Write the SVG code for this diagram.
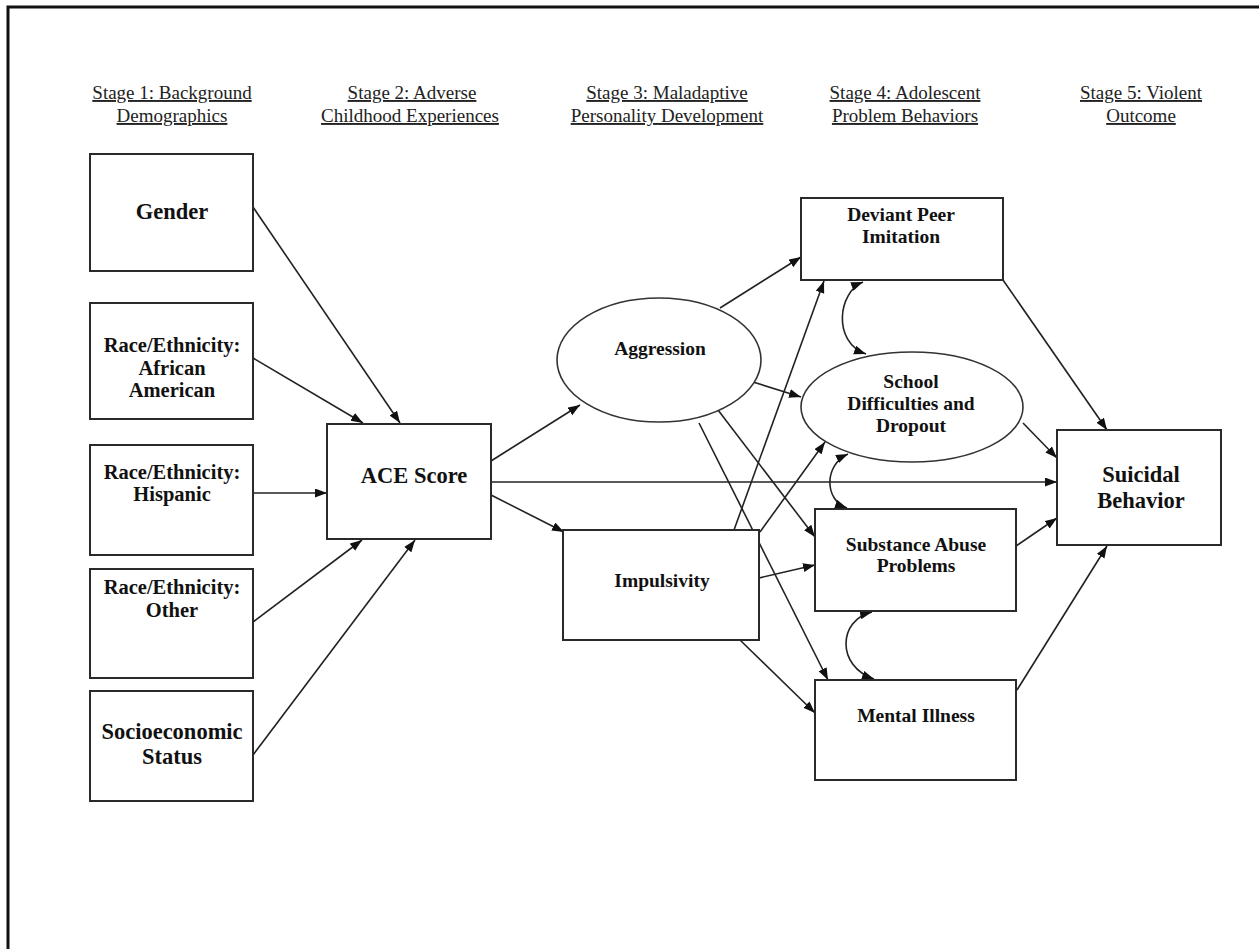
<svg xmlns="http://www.w3.org/2000/svg" width="1259" height="949" viewBox="0 0 1259 949">
<style>
.hdr{font-family:"Liberation Serif","Times New Roman",serif;font-size:19px;fill:#222;text-anchor:middle;text-decoration:underline}
.lbl{font-family:"Liberation Serif","Times New Roman",serif;font-weight:bold;font-size:19.5px;fill:#111;text-anchor:middle}
.race{font-size:20.5px}
.big{font-size:22.5px}
.box{fill:#fff;stroke:#2a2a2a;stroke-width:2}
.con path,.con line{stroke:#222;stroke-width:1.6;fill:none}
</style>
<defs>
<marker id="ah" markerUnits="userSpaceOnUse" markerWidth="13" markerHeight="10" refX="12" refY="4.5" orient="auto-start-reverse">
<path d="M0,0 L12,4.5 L0,9 z" fill="#111"/>
</marker>
</defs>
<rect x="8" y="7" width="1300" height="1000" fill="#fff" stroke="#111" stroke-width="3"/>
<g id="headers">
<text class="hdr" x="172" y="99">Stage 1: Background</text>
<text class="hdr" x="172" y="122">Demographics</text>
<text class="hdr" x="412" y="99">Stage 2: Adverse</text>
<text class="hdr" x="410" y="122">Childhood Experiences</text>
<text class="hdr" x="667" y="99">Stage 3: Maladaptive</text>
<text class="hdr" x="667" y="122">Personality Development</text>
<text class="hdr" x="905" y="99">Stage 4: Adolescent</text>
<text class="hdr" x="905" y="122">Problem Behaviors</text>
<text class="hdr" x="1141" y="99">Stage 5: Violent</text>
<text class="hdr" x="1141" y="122">Outcome</text>
</g>
<g id="connectors" class="con">
<line x1="253" y1="207" x2="400" y2="423" marker-end="url(#ah)"/>
<line x1="253" y1="358" x2="363" y2="423" marker-end="url(#ah)"/>
<line x1="253" y1="493" x2="327" y2="493" marker-end="url(#ah)"/>
<line x1="253" y1="622" x2="362" y2="540" marker-end="url(#ah)"/>
<line x1="253" y1="755" x2="415" y2="540" marker-end="url(#ah)"/>
<line x1="491" y1="461" x2="580" y2="405" marker-end="url(#ah)"/>
<line x1="491" y1="495" x2="564" y2="532" marker-end="url(#ah)"/>
<line x1="491" y1="482" x2="1057" y2="482" marker-end="url(#ah)"/>
<line x1="720" y1="308" x2="801" y2="257" marker-end="url(#ah)"/>
<line x1="753" y1="382" x2="801" y2="397" marker-end="url(#ah)"/>
<line x1="718" y1="410" x2="815" y2="537" marker-end="url(#ah)"/>
<line x1="699" y1="423" x2="828" y2="680" marker-end="url(#ah)"/>
<line x1="734" y1="530" x2="824" y2="281" marker-end="url(#ah)"/>
<line x1="760" y1="532" x2="825" y2="442" marker-end="url(#ah)"/>
<line x1="759" y1="578" x2="815" y2="565" marker-end="url(#ah)"/>
<line x1="740" y1="640" x2="815" y2="713" marker-end="url(#ah)"/>
<line x1="1003" y1="280" x2="1107" y2="430" marker-end="url(#ah)"/>
<line x1="1023" y1="423" x2="1057" y2="458" marker-end="url(#ah)"/>
<line x1="1016" y1="546" x2="1057" y2="518" marker-end="url(#ah)"/>
<line x1="1017" y1="690" x2="1107" y2="546" marker-end="url(#ah)"/>
<path d="M 863 282 C 838 292, 832 342, 866 354" marker-start="url(#ah)" marker-end="url(#ah)"/>
<path d="M 848 454 C 824 465, 824 500, 847 508" marker-start="url(#ah)" marker-end="url(#ah)"/>
<path d="M 872 612 C 838 620, 836 666, 874 679" marker-start="url(#ah)" marker-end="url(#ah)"/>
</g>
<g id="gender"><rect class="box" x="90" y="154" width="163" height="117"/><text class="lbl big" x="172" y="219">Gender</text></g>
<g id="race-aa"><rect class="box" x="90" y="303" width="163" height="116"/><text class="lbl race" x="172" y="352">Race/Ethnicity:</text><text class="lbl race" x="172" y="375">African</text><text class="lbl race" x="172" y="397">American</text></g>
<g id="race-hisp"><rect class="box" x="90" y="445" width="163" height="110"/><text class="lbl race" x="172" y="479">Race/Ethnicity:</text><text class="lbl race" x="172" y="501">Hispanic</text></g>
<g id="race-other"><rect class="box" x="90" y="569" width="163" height="109"/><text class="lbl race" x="172" y="594">Race/Ethnicity:</text><text class="lbl race" x="172" y="617">Other</text></g>
<g id="ses"><rect class="box" x="90" y="691" width="163" height="110"/><text class="lbl big" x="172" y="739">Socioeconomic</text><text class="lbl big" x="172" y="764">Status</text></g>
<g id="ace"><rect class="box" x="327" y="424" width="164" height="115"/><text class="lbl big" x="414" y="483">ACE Score</text></g>
<g id="aggression"><ellipse cx="659" cy="360" rx="102" ry="62" fill="#fff" stroke="#333" stroke-width="1.6"/><text class="lbl" x="660" y="355">Aggression</text></g>
<g id="impulsivity"><rect class="box" x="563" y="530" width="196" height="110"/><text class="lbl" x="662" y="587">Impulsivity</text></g>
<g id="deviant"><rect class="box" x="801" y="198" width="202" height="82"/><text class="lbl" x="901" y="221">Deviant Peer</text><text class="lbl" x="901" y="243">Imitation</text></g>
<g id="school"><ellipse cx="912" cy="407" rx="111" ry="55" fill="#fff" stroke="#333" stroke-width="1.6"/><text class="lbl" x="911" y="388">School</text><text class="lbl" x="911" y="410">Difficulties and</text><text class="lbl" x="911" y="432">Dropout</text></g>
<g id="substance"><rect class="box" x="815" y="509" width="201" height="102"/><text class="lbl" x="916" y="551">Substance Abuse</text><text class="lbl" x="916" y="572">Problems</text></g>
<g id="mental"><rect class="box" x="815" y="680" width="201" height="100"/><text class="lbl" x="916" y="722">Mental Illness</text></g>
<g id="suicidal"><rect class="box" x="1057" y="430" width="164" height="115"/><text class="lbl big" x="1141" y="482">Suicidal</text><text class="lbl big" x="1141" y="508">Behavior</text></g>
</svg>
